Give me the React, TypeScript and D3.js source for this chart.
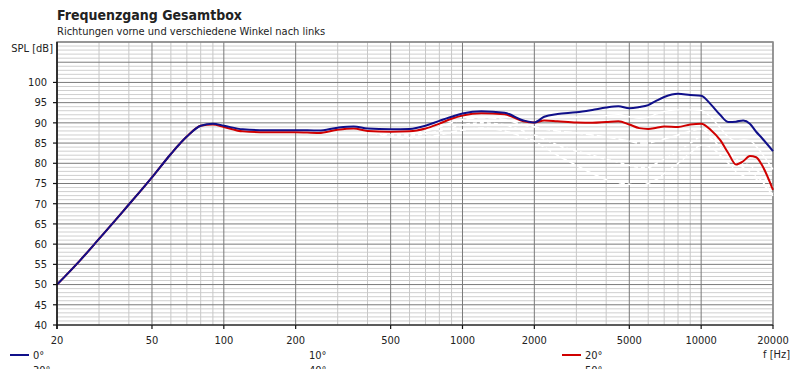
import React from "react";
import * as d3 from "d3";

// frequency grid (Hz) shared by all curves
const freqs = [20, 25, 30, 35, 40, 45, 50, 60, 70, 80, 90, 100, 120, 150, 200, 250, 300, 350, 400, 500, 600, 700, 800, 900, 1000, 1200, 1500, 1800, 2000, 2200, 2500, 3000, 3500, 4000, 4500, 5000, 5500, 6000, 6500, 7000, 8000, 9000, 10000, 11000, 12000, 13000, 14000, 15000, 16000, 17000, 18000, 20000];

const spl0 = [50, 56, 61.3, 65.8, 69.8, 73.3, 76.5, 82.3, 86.6, 89.3, 89.8, 89.3, 88.4, 88.2, 88.2, 88.1, 88.8, 89.1, 88.6, 88.4, 88.5, 89.3, 90.5, 91.5, 92.3, 92.9, 92.5, 90.6, 90.1, 91.5, 92.2, 92.6, 93.2, 93.8, 94.1, 93.6, 93.9, 94.4, 95.5, 96.4, 97.2, 96.9, 96.7, 94.5, 92, 90.2, 90.3, 90.6, 89.8, 87.8, 86.2, 83];
const spl10 = [50, 56, 61.3, 65.8, 69.8, 73.3, 76.5, 82.3, 86.6, 89.3, 89.7, 89.1, 88.1, 87.9, 87.9, 87.8, 88.5, 88.8, 88.3, 88.1, 88.2, 88.9, 90.1, 91.2, 92, 92.6, 92.3, 90.5, 90.1, 91, 91.3, 91.4, 91.5, 91.8, 92, 91.5, 91.2, 91.4, 92.2, 92.8, 93.2, 93.2, 93.1, 91.3, 88.8, 86.5, 85.5, 85.8, 85.6, 84.2, 82.4, 78.5];
const spl20 = [50, 56, 61.3, 65.8, 69.8, 73.3, 76.5, 82.3, 86.6, 89.3, 89.6, 89, 87.9, 87.7, 87.7, 87.5, 88.3, 88.6, 88, 87.8, 87.9, 88.6, 89.8, 91, 91.8, 92.4, 92.1, 90.4, 90.1, 90.6, 90.4, 90.1, 90, 90.2, 90.4, 89.6, 88.7, 88.5, 88.8, 89.1, 89, 89.6, 89.8, 88.2, 85.8, 82.5, 79.7, 80.5, 81.8, 81.5, 79.5, 73.4];
const spl30 = [50, 56, 61.3, 65.8, 69.8, 73.3, 76.5, 82.3, 86.6, 89.3, 89.6, 89, 87.9, 87.7, 87.7, 87.5, 88.3, 88.6, 88, 87.5, 87.5, 88, 89, 90, 90.8, 91.3, 90.8, 89.5, 89, 88.5, 88, 87.5, 87, 86.5, 86, 85.5, 85, 85, 85.5, 86, 87, 88, 88.5, 87, 85, 83, 81, 80, 79.5, 78.5, 77, 74];
const spl40 = [50, 56, 61.3, 65.8, 69.8, 73.3, 76.5, 82.3, 86.6, 89.3, 89.6, 89, 87.9, 87.7, 87.7, 87.5, 88.3, 88.6, 88, 87, 87, 87.3, 88, 88.8, 89.5, 90, 89.5, 88, 87, 86, 84.5, 83, 82, 81, 80.3, 79.5, 79, 79, 80, 81, 83, 85, 86.5, 86, 84, 82, 80, 79, 78, 77, 75.5, 72.5];
const spl50 = [50, 56, 61.3, 65.8, 69.8, 73.3, 76.5, 82.3, 86.6, 89.3, 89.6, 89, 87.9, 87.7, 87.7, 87.5, 88.3, 88.6, 88, 86.5, 86.3, 86.5, 87, 87.7, 88.2, 88.7, 88, 86.5, 85.5, 84, 82, 79.5, 77.5, 76, 75.2, 74.8, 74.5, 75, 76, 77.5, 80, 82.5, 84.5, 84, 82, 80, 78, 77, 76.5, 76, 75, 72];

const xTicks = [20, 50, 100, 200, 500, 1000, 2000, 5000, 10000, 20000];
const yTicks = [40, 45, 50, 55, 60, 65, 70, 75, 80, 85, 90, 95, 100];

const series = [
  { name: "50°", values: spl50, color: "#ffffff", dash: "6,3", width: 1.6 },
  { name: "40°", values: spl40, color: "#ffffff", dash: "4,3", width: 1.6 },
  { name: "30°", values: spl30, color: "#ffffff", dash: "8,3", width: 1.6 },
  { name: "10°", values: spl10, color: "#ffffff", dash: null, width: 1.4 },
  { name: "20°", values: spl20, color: "#d00000", dash: null, width: 2 },
  { name: "0°", values: spl0, color: "#10108a", dash: null, width: 2 },
];

const legend = [
  { name: "0°", color: "#10108a", col: 0, row: 0 },
  { name: "10°", color: "#ffffff", col: 1, row: 0 },
  { name: "20°", color: "#d00000", col: 2, row: 0 },
  { name: "30°", color: "#ffffff", col: 0, row: 1 },
  { name: "40°", color: "#ffffff", col: 1, row: 1 },
  { name: "50°", color: "#ffffff", col: 2, row: 1 },
];

const W = 800;
const H = 369;
const left = 57;
const right = 773;
const top = 42;
const bottom = 325;
const font = "Tahoma, 'DejaVu Sans Condensed', 'Liberation Sans', sans-serif";

export default function App() {
  const x = d3.scaleLog().domain([20, 20000]).range([left, right]);
  const y = d3.scaleLinear().domain([40, 110]).range([bottom, top]);

  // minor grid positions
  const minorX: number[] = [];
  [10, 100, 1000, 10000].forEach((dec) => {
    for (let k = 1; k <= 9; k++) {
      const f = dec * k;
      if (f > 20 && f < 20000 && !xTicks.includes(f)) minorX.push(f);
    }
  });
  const minorY = d3.range(41, 110).filter((v) => v % 5 !== 0);
  const majorY = d3.range(45, 111, 5);

  const line = d3
    .line<number>()
    .x((d, i) => x(freqs[i]))
    .y((d) => y(d))
    .curve(d3.curveMonotoneX);

  return (
    <svg width={W} height={H} style={{ position: "absolute", left: 0, top: 0, background: "#fff" }} fontFamily={font}>
      <rect x={0} y={0} width={W} height={H} fill="#fff" />
      <text x={57} y={20} fontSize={14} fontWeight="bold" fill="#222">Frequenzgang Gesamtbox</text>
      <text x={57} y={35} fontSize={11} fill="#222">Richtungen vorne und verschiedene Winkel nach links</text>

      {/* grid */}
      {minorY.map((v) => (
        <line key={"my" + v} x1={left} x2={right} y1={y(v)} y2={y(v)} stroke="#cfcfcf" strokeWidth={1} />
      ))}
      {minorX.map((f) => (
        <line key={"mx" + f} x1={x(f)} x2={x(f)} y1={top} y2={bottom} stroke="#c8c8c8" strokeWidth={1} />
      ))}
      {majorY.map((v) => (
        <line key={"My" + v} x1={left} x2={right} y1={y(v)} y2={y(v)} stroke="#7a7a7a" strokeWidth={1} />
      ))}
      {xTicks.map((f) => (
        <line key={"Mx" + f} x1={x(f)} x2={x(f)} y1={top} y2={bottom} stroke="#7a7a7a" strokeWidth={1} />
      ))}
      <rect x={left} y={top} width={right - left} height={bottom - top} fill="none" stroke="#8a8a8a" strokeWidth={1.5} />

      {/* curves */}
      {series.map((s) => (
        <path
          key={s.name}
          d={line(s.values) || ""}
          fill="none"
          stroke={s.color}
          strokeWidth={s.width}
          strokeDasharray={s.dash || undefined}
        />
      ))}

      {/* axes */}
      <line x1={left} x2={left} y1={top} y2={bottom + 4} stroke="#111" strokeWidth={1.5} />
      <line x1={left} x2={right} y1={bottom} y2={bottom} stroke="#111" strokeWidth={1} />
      {yTicks.map((v) => (
        <g key={"yt" + v}>
          <line x1={left - 4} x2={left} y1={y(v)} y2={y(v)} stroke="#111" strokeWidth={1.2} />
          <text x={47} y={y(v)} dy="0.35em" textAnchor="end" fontSize={11} fill="#222">{v}</text>
        </g>
      ))}
      <text x={53} y={48} dy="0.35em" textAnchor="end" fontSize={11} fill="#222">SPL [dB]</text>
      {xTicks.map((f) => (
        <g key={"xt" + f}>
          <line x1={x(f)} x2={x(f)} y1={bottom} y2={bottom + 4} stroke="#111" strokeWidth={1.2} />
          <text x={x(f)} y={340} dy="0.35em" textAnchor="middle" fontSize={11} fill="#222">{f}</text>
        </g>
      ))}
      <text x={790} y={354} dy="0.35em" textAnchor="end" fontSize={11} fill="#222">f [Hz]</text>

      {/* legend */}
      {legend.map((l) => {
        const lx = 10 + l.col * 276;
        const ly = 355 + l.row * 15;
        return (
          <g key={"lg" + l.name}>
            <line x1={lx} x2={lx + 19} y1={ly} y2={ly} stroke={l.color} strokeWidth={2} />
            <text x={lx + 23} y={ly} dy="0.35em" fontSize={11} fill="#222">{l.name}</text>
          </g>
        );
      })}
    </svg>
  );
}
